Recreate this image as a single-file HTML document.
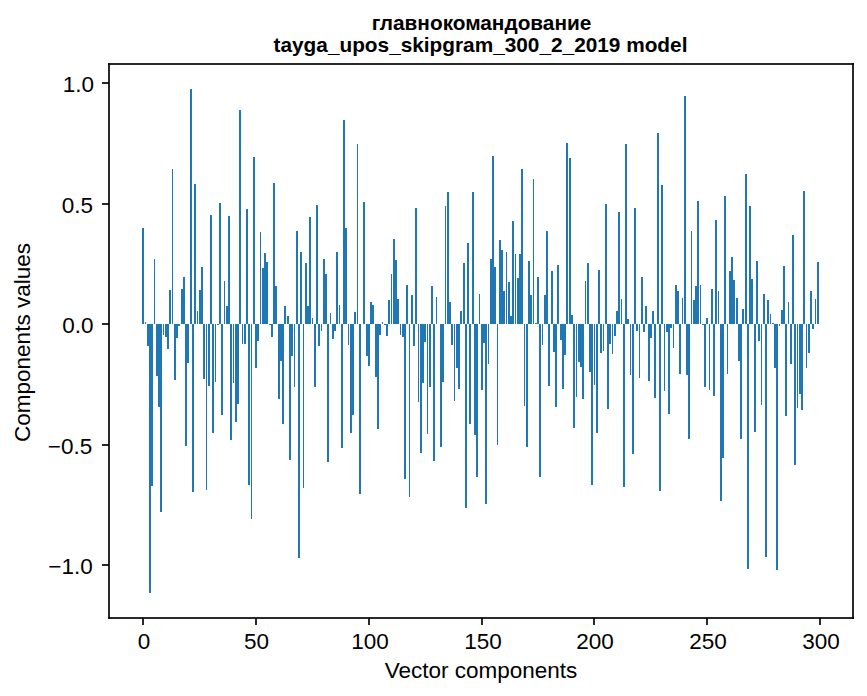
<!DOCTYPE html>
<html lang="ru">
<head>
<meta charset="utf-8">
<title>главнокомандование — tayga_upos_skipgram_300_2_2019 model</title>
<style>
html,body{margin:0;padding:0;background:#fff;}
body{width:867px;height:696px;overflow:hidden;font-family:"Liberation Sans",sans-serif;}
svg{display:block;}
</style>
</head>
<body>
<svg width="867" height="696" viewBox="0 0 867 696" role="img" aria-label="Bar chart of the 300 vector components of the word главнокомандование (tayga_upos_skipgram_300_2_2019 model)">
<rect width="867" height="696" fill="#fff"/>
<path fill="#1f77b4" shape-rendering="crispEdges" d="M142 228H144V324H142ZM145 322H146V324H145ZM147 324H149V346H147ZM149 324H151V593H149ZM151 324H153V486H151ZM154 259H155V324H154ZM156 324H158V376H156ZM158 324H160V407H158ZM160 324H162V512H160ZM163 324H164V335H163ZM165 324H167V337H165ZM167 324H169V349H167ZM169 290H171V324H169ZM172 169H173V324H172ZM174 324H176V380H174ZM176 324H178V338H176ZM178 324H180V326H178ZM181 289H183V324H181ZM183 277H185V324H183ZM185 324H187V446H185ZM187 324H189V363H187ZM190 89H192V324H190ZM192 324H194V492H192ZM194 184H196V324H194ZM197 311H198V324H197ZM199 290H201V324H199ZM201 267H203V324H201ZM203 324H205V379H203ZM206 324H207V490H206ZM208 324H210V386H208ZM210 215H212V324H210ZM212 324H214V433H212ZM215 324H216V382H215ZM217 324H219V325H217ZM219 203H221V324H219ZM221 324H223V415H221ZM224 281H225V324H224ZM226 306H228V324H226ZM228 216H230V324H228ZM230 324H232V440H230ZM233 324H234V383H233ZM235 324H237V422H235ZM237 324H239V404H237ZM239 110H241V324H239ZM242 324H243V344H242ZM244 324H246V344H244ZM246 209H248V324H246ZM248 324H250V485H248ZM251 324H252V519H251ZM253 157H255V324H253ZM255 324H257V368H255ZM257 324H259V341H257ZM260 232H261V324H260ZM262 268H264V324H262ZM264 253H266V324H264ZM266 262H268V324H266ZM269 324H271V325H269ZM271 324H273V337H271ZM273 183H275V324H273ZM275 286H277V324H275ZM278 324H280V399H278ZM280 324H282V361H280ZM282 324H284V424H282ZM284 306H286V324H284ZM287 316H289V324H287ZM289 324H291V460H289ZM291 324H293V356H291ZM294 324H295V387H294ZM296 231H298V324H296ZM298 324H300V558H298ZM300 252H302V324H300ZM303 324H304V488H303ZM305 263H307V324H305ZM307 306H309V324H307ZM309 217H311V324H309ZM312 318H313V324H312ZM314 324H316V387H314ZM316 205H318V324H316ZM318 324H320V346H318ZM321 324H322V331H321ZM323 259H325V324H323ZM325 274H327V324H325ZM327 324H329V462H327ZM330 313H331V324H330ZM332 324H334V339H332ZM334 324H336V331H334ZM336 252H338V324H336ZM339 305H340V324H339ZM341 324H343V448H341ZM343 120H345V324H343ZM345 228H347V324H345ZM348 324H349V345H348ZM350 324H352V433H350ZM352 324H354V415H352ZM354 312H356V324H354ZM357 144H358V324H357ZM359 324H361V494H359ZM363 202H365V324H363ZM366 324H368V356H366ZM368 324H370V366H368ZM370 302H372V324H370ZM372 305H374V324H372ZM375 324H377V377H375ZM377 324H379V429H377ZM379 324H381V335H379ZM382 322H383V324H382ZM384 324H386V325H384ZM386 324H388V336H386ZM388 300H390V324H388ZM391 274H392V324H391ZM393 239H395V324H393ZM395 260H397V324H395ZM397 299H399V324H397ZM400 324H401V335H400ZM402 324H404V337H402ZM404 324H406V479H404ZM406 285H408V324H406ZM409 324H410V497H409ZM411 295H413V324H411ZM413 324H415V346H413ZM415 208H417V324H415ZM418 324H419V402H418ZM420 324H422V453H420ZM422 324H424V383H422ZM424 324H426V342H424ZM427 324H428V434H427ZM429 324H431V387H429ZM431 286H433V324H431ZM433 324H435V461H433ZM436 297H437V324H436ZM440 324H442V447H440ZM442 324H444V382H442ZM445 206H446V324H445ZM447 192H449V324H447ZM449 302H451V324H449ZM451 324H453V345H451ZM454 324H455V401H454ZM456 324H458V368H456ZM458 324H460V389H458ZM460 311H462V324H460ZM463 263H465V324H463ZM465 324H467V508H465ZM467 243H469V324H467ZM469 324H471V424H469ZM472 192H474V324H472ZM474 324H476V435H474ZM476 324H478V477H476ZM479 294H480V324H479ZM481 324H483V390H481ZM483 324H485V343H483ZM485 324H487V504H485ZM488 324H489V364H488ZM490 259H492V324H490ZM492 156H494V324H492ZM494 267H496V324H494ZM497 324H498V445H497ZM499 240H501V324H499ZM501 250H503V324H501ZM503 291H505V324H503ZM506 252H507V324H506ZM508 282H510V324H508ZM510 316H512V324H510ZM512 221H514V324H512ZM515 254H516V324H515ZM517 278H519V324H517ZM519 254H521V324H519ZM521 169H523V324H521ZM524 324H525V406H524ZM526 324H528V447H526ZM528 261H530V324H528ZM530 295H532V324H530ZM533 179H534V324H533ZM535 323H537V324H535ZM537 277H539V324H537ZM539 324H541V477H539ZM542 324H543V345H542ZM544 295H546V324H544ZM546 231H548V324H546ZM548 324H550V386H548ZM551 271H553V324H551ZM553 324H555V352H553ZM555 324H557V407H555ZM557 265H559V324H557ZM560 324H562V340H560ZM562 324H564V389H562ZM564 324H566V355H564ZM566 143H568V324H566ZM569 158H571V324H569ZM571 315H573V324H571ZM573 324H575V428H573ZM576 324H577V397H576ZM578 324H580V362H578ZM580 324H582V367H580ZM582 324H584V399H582ZM585 281H586V324H585ZM587 263H589V324H587ZM589 324H591V372H589ZM591 324H593V485H591ZM594 324H595V385H594ZM596 324H598V433H596ZM598 270H600V324H598ZM600 324H602V353H600ZM603 324H604V351H603ZM605 204H607V324H605ZM607 324H609V409H607ZM609 324H611V344H609ZM612 324H613V354H612ZM614 324H616V336H614ZM616 311H618V324H616ZM618 212H620V324H618ZM621 299H622V324H621ZM623 324H625V487H623ZM625 144H627V324H625ZM627 319H629V324H627ZM630 324H631V375H630ZM632 324H634V454H632ZM634 208H636V324H634ZM636 324H638V331H636ZM639 324H640V378H639ZM641 277H643V324H641ZM643 324H645V332H643ZM645 306H647V324H645ZM648 324H650V381H648ZM650 324H652V338H650ZM652 311H654V324H652ZM654 324H656V398H654ZM657 133H659V324H657ZM659 324H661V491H659ZM661 185H663V324H661ZM664 324H665V391H664ZM666 324H668V332H666ZM668 324H670V414H668ZM670 324H672V328H670ZM673 324H674V348H673ZM675 285H677V324H675ZM677 291H679V324H677ZM679 324H681V374H679ZM682 298H683V324H682ZM684 96H686V324H684ZM686 324H688V375H686ZM688 324H690V439H688ZM691 231H692V324H691ZM693 300H695V324H693ZM695 286H697V324H695ZM697 201H699V324H697ZM700 285H701V324H700ZM702 324H704V325H702ZM704 324H706V387H704ZM706 318H708V324H706ZM709 324H710V390H709ZM711 289H713V324H711ZM713 324H715V396H713ZM715 220H717V324H715ZM718 291H719V324H718ZM720 324H722V501H720ZM722 324H724V458H722ZM724 196H726V324H724ZM727 324H728V374H727ZM729 271H731V324H729ZM731 257H733V324H731ZM733 280H735V324H733ZM736 298H738V324H736ZM738 324H740V361H738ZM740 324H742V439H740ZM742 309H744V324H742ZM745 174H747V324H745ZM747 324H749V569H747ZM749 206H751V324H749ZM751 279H753V324H751ZM754 324H756V432H754ZM756 261H758V324H756ZM758 324H760V341H758ZM761 324H762V405H761ZM763 294H765V324H763ZM765 324H767V557H765ZM767 300H769V324H767ZM770 314H771V324H770ZM772 323H774V324H772ZM774 324H776V368H774ZM776 324H778V570H776ZM779 324H780V326H779ZM781 310H783V324H781ZM783 266H785V324H783ZM785 324H787V416H785ZM788 302H789V324H788ZM790 324H792V364H790ZM792 235H794V324H792ZM794 324H796V465H794ZM797 324H798V408H797ZM799 324H801V394H799ZM801 324H803V410H801ZM803 191H805V324H803ZM806 324H807V368H806ZM808 324H810V353H808ZM810 291H812V324H810ZM812 324H814V329H812ZM815 299H816V324H815ZM817 262H819V324H817Z"/>
<g fill="#000" fill-opacity="0.8353" shape-rendering="crispEdges"><rect x="108" y="63" width="2" height="556"/><rect x="852" y="63" width="2" height="556"/><rect x="108" y="63" width="746" height="2"/><rect x="108" y="617" width="746" height="2"/><rect x="142" y="618" width="2" height="7"/><rect x="255" y="618" width="2" height="7"/><rect x="368" y="618" width="2" height="7"/><rect x="481" y="618" width="2" height="7"/><rect x="593" y="618" width="2" height="7"/><rect x="706" y="618" width="2" height="7"/><rect x="819" y="618" width="2" height="7"/><rect x="102" y="82" width="7" height="2"/><rect x="102" y="203" width="7" height="2"/><rect x="102" y="323" width="7" height="2"/><rect x="102" y="444" width="7" height="2"/><rect x="102" y="564" width="7" height="2"/></g>
<g font-family="'Liberation Sans', sans-serif" fill="#000"><text x="481.5" y="30" font-size="20.8" font-weight="bold" text-anchor="middle">главнокомандование</text><text x="480.5" y="52" font-size="20.8" font-weight="bold" text-anchor="middle">tayga_upos_skipgram_300_2_2019 model</text><text x="481" y="678" font-size="22.5" font-weight="normal" text-anchor="middle">Vector components</text><text x="30" y="342.5" font-size="22.5" font-weight="normal" text-anchor="middle" transform="rotate(-90 30 342.5)">Components values</text><text x="144" y="649" font-size="22.5" font-weight="normal" text-anchor="middle">0</text><text x="256.5" y="649" font-size="22.5" font-weight="normal" text-anchor="middle">50</text><text x="370" y="649" font-size="22.5" font-weight="normal" text-anchor="middle">100</text><text x="483" y="649" font-size="22.5" font-weight="normal" text-anchor="middle">150</text><text x="595" y="649" font-size="22.5" font-weight="normal" text-anchor="middle">200</text><text x="708" y="649" font-size="22.5" font-weight="normal" text-anchor="middle">250</text><text x="821" y="649" font-size="22.5" font-weight="normal" text-anchor="middle">300</text><text x="78.5" y="92" font-size="22.5" font-weight="normal" text-anchor="middle">1.0</text><text x="77.5" y="213" font-size="22.5" font-weight="normal" text-anchor="middle">0.5</text><text x="78" y="333" font-size="22.5" font-weight="normal" text-anchor="middle">0.0</text><text x="70" y="454" font-size="22.5" font-weight="normal" text-anchor="middle">−0.5</text><text x="70.5" y="574" font-size="22.5" font-weight="normal" text-anchor="middle">−1.0</text></g>
</svg>
</body>
</html>
